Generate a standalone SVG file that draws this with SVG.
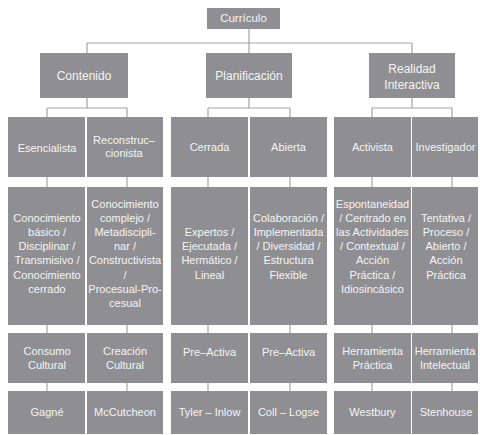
<svg xmlns="http://www.w3.org/2000/svg" width="480" height="435" viewBox="0 0 480 435">
<style>
.b{fill:#8f8f93}
.t{font-family:"Liberation Sans",Arial,sans-serif;font-size:11px;fill:#f4f4f4;text-anchor:middle}
.l1{font-size:12px}
.c{stroke:#a3a3a6;stroke-width:1.2;fill:none}
</style>
<rect width="480" height="435" fill="#ffffff"/>
<g id="connectors" class="c">
<path d="M249 29V43M87 43H412M87 43V53M249 43V53M412 43V53"/>
<path d="M87 98V108M47 108H127M47 108V117M127 108V117"/>
<path d="M249 98V108M208 108H290M208 108V117M290 108V117"/>
<path d="M412 98V108M372 108H452M372 108V117M452 108V117"/>
<path d="M47 177V187M127 177V187M208 177V187M290 177V187M372 177V187M452 177V187"/>
<path d="M47 325V333M127 325V333M208 325V333M290 325V333M372 325V333M452 325V333"/>
<path d="M47 383V391M127 383V391M208 383V391M290 383V391M372 383V391M452 383V391"/>
</g>
<g id="curriculo"><rect class="b" x="207" y="8" width="73" height="21"/><text class="t" x="243.5" y="21.5" style="font-size:11.5px">Currículo</text></g>
<g id="contenido"><rect class="b" x="40" y="53" width="88" height="45"/><text class="t l1" x="84" y="80">Contenido</text></g>
<g id="planificacion"><rect class="b" x="206" y="53" width="86" height="45"/><text class="t l1" x="249" y="80">Planificación</text></g>
<g id="realidad"><rect class="b" x="369" y="53" width="86" height="45"/><text class="t l1" x="412" y="72.5">Realidad</text><text class="t l1" x="412" y="89">Interactiva</text></g>

<g id="esencialista"><rect class="b" x="8" y="117" width="77" height="60"/><text class="t" x="47" y="152">Esencialista</text></g>
<g id="reconstruccionista"><rect class="b" x="87" y="117" width="76" height="60"/><text class="t" x="124" y="144">Reconstruc–</text><text class="t" x="124" y="157.3">cionista</text></g>
<g id="cerrada"><rect class="b" x="171" y="117" width="77" height="60"/><text class="t" x="209.5" y="151.3">Cerrada</text></g>
<g id="abierta"><rect class="b" x="250" y="117" width="77" height="60"/><text class="t" x="288.5" y="151.3">Abierta</text></g>
<g id="activista"><rect class="b" x="334" y="117" width="77" height="60"/><text class="t" x="372.5" y="151.3">Activista</text></g>
<g id="investigador"><rect class="b" x="412" y="117" width="66" height="60"/><text class="t" x="445.5" y="151.3">Investigador</text></g>

<g id="desc-esencialista"><rect class="b" x="8" y="187" width="77" height="138"/>
<text class="t" x="47"><tspan x="47" y="221.7">Conocimiento</tspan><tspan x="47" y="235.9">básico /</tspan><tspan x="47" y="250.1">Disciplinar /</tspan><tspan x="47" y="264.3">Transmisivo /</tspan><tspan x="47" y="278.5">Conocimiento</tspan><tspan x="47" y="292.7">cerrado</tspan></text></g>
<g id="desc-reconstruccionista"><rect class="b" x="87" y="187" width="76" height="138"/>
<text class="t" x="125"><tspan x="125" y="207.5">Conocimiento</tspan><tspan x="125" y="221.7">complejo /</tspan><tspan x="125" y="235.9">Metadiscipli-</tspan><tspan x="125" y="250.1">nar /</tspan><tspan x="125" y="264.3">Constructivista</tspan><tspan x="125" y="278.5">/</tspan><tspan x="125" y="292.7">Procesual-Pro-</tspan><tspan x="125" y="306.9">cesual</tspan></text></g>
<g id="desc-cerrada"><rect class="b" x="171" y="187" width="77" height="138"/>
<text class="t" x="209.5"><tspan x="209.5" y="235.9">Expertos /</tspan><tspan x="209.5" y="250.1">Ejecutada /</tspan><tspan x="209.5" y="264.3">Hermático /</tspan><tspan x="209.5" y="278.5">Lineal</tspan></text></g>
<g id="desc-abierta"><rect class="b" x="250" y="187" width="77" height="138"/>
<text class="t" x="288.5"><tspan x="288.5" y="221.7">Colaboración /</tspan><tspan x="288.5" y="235.9">Implementada</tspan><tspan x="288.5" y="250.1">/ Diversidad /</tspan><tspan x="288.5" y="264.3">Estructura</tspan><tspan x="288.5" y="278.5">Flexible</tspan></text></g>
<g id="desc-activista"><rect class="b" x="334" y="187" width="77" height="138"/>
<text class="t" x="372.5"><tspan x="372.5" y="207.5">Espontaneidad</tspan><tspan x="372.5" y="221.7">/ Centrado en</tspan><tspan x="372.5" y="235.9">las Actividades</tspan><tspan x="372.5" y="250.1">/ Contextual /</tspan><tspan x="372.5" y="264.3">Acción</tspan><tspan x="372.5" y="278.5">Práctica /</tspan><tspan x="372.5" y="292.7">Idiosincásico</tspan></text></g>
<g id="desc-investigador"><rect class="b" x="412" y="187" width="66" height="138"/>
<text class="t" x="446"><tspan x="446" y="221.7">Tentativa /</tspan><tspan x="446" y="235.9">Proceso /</tspan><tspan x="446" y="250.1">Abierto /</tspan><tspan x="446" y="264.3">Acción</tspan><tspan x="446" y="278.5">Práctica</tspan></text></g>

<g id="consumo"><rect class="b" x="8" y="333" width="77" height="50"/><text class="t" x="47" y="355">Consumo</text><text class="t" x="47" y="369">Cultural</text></g>
<g id="creacion"><rect class="b" x="87" y="333" width="76" height="50"/><text class="t" x="125" y="355">Creación</text><text class="t" x="125" y="369">Cultural</text></g>
<g id="preactiva1"><rect class="b" x="171" y="333" width="77" height="50"/><text class="t" x="209.5" y="355.5">Pre–Activa</text></g>
<g id="preactiva2"><rect class="b" x="250" y="333" width="77" height="50"/><text class="t" x="288.5" y="355.5">Pre–Activa</text></g>
<g id="herr-practica"><rect class="b" x="334" y="333" width="77" height="50"/><text class="t" x="372.5" y="355">Herramienta</text><text class="t" x="372.5" y="369">Práctica</text></g>
<g id="herr-intelectual"><rect class="b" x="412" y="333" width="66" height="50"/><text class="t" x="445" y="355">Herramienta</text><text class="t" x="445" y="369">Intelectual</text></g>

<g id="gagne"><rect class="b" x="8" y="391" width="77" height="43"/><text class="t" x="47" y="415.5">Gagné</text></g>
<g id="mccutcheon"><rect class="b" x="87" y="391" width="76" height="43"/><text class="t" x="125" y="415.5">McCutcheon</text></g>
<g id="tyler"><rect class="b" x="171" y="391" width="77" height="43"/><text class="t" x="209.5" y="415.5">Tyler – Inlow</text></g>
<g id="coll"><rect class="b" x="250" y="391" width="77" height="43"/><text class="t" x="288.5" y="415.5">Coll – Logse</text></g>
<g id="westbury"><rect class="b" x="334" y="391" width="77" height="43"/><text class="t" x="372.5" y="415.5">Westbury</text></g>
<g id="stenhouse"><rect class="b" x="412" y="391" width="66" height="43"/><text class="t" x="446" y="415.5">Stenhouse</text></g>
</svg>
